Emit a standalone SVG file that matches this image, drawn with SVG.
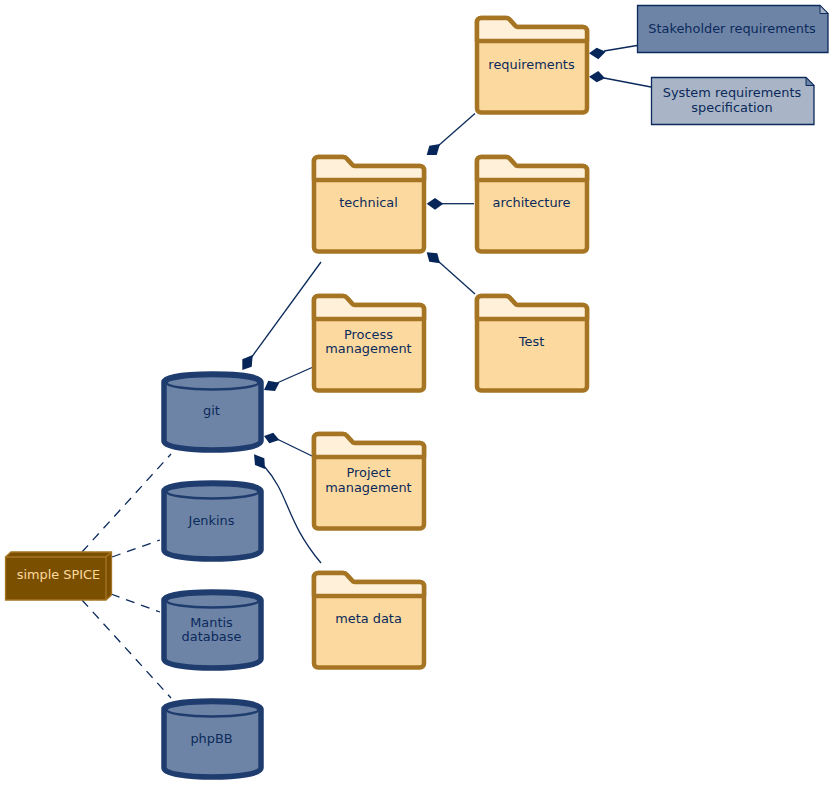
<svg xmlns="http://www.w3.org/2000/svg" width="833" height="788" viewBox="0 0 833 788">
<style>
text{font-family:"DejaVu Sans",sans-serif;font-size:12.9px;fill:#0b2a5b;text-anchor:middle}
.fb{fill:#fbd99f;stroke:#a67524;stroke-width:4.500;stroke-linejoin:round}
.ft{fill:#fff0d9;stroke:#a67524;stroke-width:4.500;stroke-linejoin:round}
.cb{fill:#6e84a6;stroke:#1f3c6e;stroke-width:5.500}
.con{fill:none;stroke:#0b2a5b;stroke-width:1.300}
.dash{stroke-dasharray:9 7}
.dia{fill:#062558;stroke:none}
</style>
<defs>
<g id="folder">
<path class="fb" d="M2 6a4 4 0 0 1 4-4H31a5 5 0 0 1 4 2L40 9.500a3 3 0 0 0 2.500 1.500H108a4 4 0 0 1 4 4V92.500a4 4 0 0 1-4 4H6a4 4 0 0 1-4-4Z"/>
<path class="ft" d="M2 25V6a4 4 0 0 1 4-4H31a5 5 0 0 1 4 2L40 9.500a3 3 0 0 0 2.500 1.500H108a4 4 0 0 1 4 4V25Z"/>
</g>
<g id="cyl">
<path class="cb" d="M3 10C3 -0.700 100 -0.700 100 10V69C100 81 3 81 3 69Z"/>
<ellipse cx="51.500" cy="10.750" rx="46" ry="6.750" fill="#6e84a6" stroke="#1f3c6e" stroke-width="2.500"/>
</g>
</defs>

<g id="connectors">
<path class="con" d="M604 51L637 45.500"/>
<path class="con" d="M604 78L651 87"/>
<path class="con" d="M438 146L475 113.500"/>
<path class="con" d="M442 203.700H474"/>
<path class="con" d="M438 261L475 294"/>
<path class="con" d="M251 358L321 262"/>
<path class="con" d="M277 383L312 367.500"/>
<path class="con" d="M277 439L312 456"/>
<path class="con" d="M264 466C290 495 285 520 321 563"/>
<path class="con dash" d="M82 552L171 454"/>
<path class="con dash" d="M112 557L160 540"/>
<path class="con dash" d="M111 594L160 612"/>
<path class="con dash" d="M82 600L171 698"/>
<path class="dia" d="M589 53.300L596.700 47.700L605.700 51.700L598.300 59.300Z"/>
<path class="dia" d="M589 76.700L598.300 71L605 78.300L596.700 82.300Z"/>
<path class="dia" d="M426.700 155L429.300 145.700L440 144L436.700 155Z"/>
<path class="dia" d="M426.700 203.700L435 198L443.300 203.700L435 209.700Z"/>
<path class="dia" d="M426.700 252.300L437.300 253.300L440 263.300L429.300 261.700Z"/>
<path class="dia" d="M242.300 359.300L252.700 355L251.700 366.700L242.300 370Z"/>
<path class="dia" d="M264 390L268.300 380.700L279.300 382.700L275 391Z"/>
<path class="dia" d="M264 436L273.300 432.700L279.300 440L269.300 443.300Z"/>
<path class="dia" d="M254 454.300L264.300 458.300L265 469L255 465Z"/>
</g>

<g id="requirements"><use href="#folder" x="475" y="16"/><text x="531.500" y="69">requirements</text></g>
<g id="technical"><use href="#folder" x="312" y="155"/><text x="368.500" y="207">technical</text></g>
<g id="architecture"><use href="#folder" x="475" y="155"/><text x="531.500" y="207">architecture</text></g>
<g id="test"><use href="#folder" x="475" y="294"/><text x="531.500" y="346">Test</text></g>
<g id="process"><use href="#folder" x="312" y="294"/><text x="368.500" y="339">Process</text><text x="368.500" y="353">management</text></g>
<g id="project"><use href="#folder" x="312" y="432"/><text x="368.500" y="477">Project</text><text x="368.500" y="492">management</text></g>
<g id="meta"><use href="#folder" x="312" y="571"/><text x="368.500" y="623">meta data</text></g>

<g id="stakeholder">
<path d="M637.500 5.500H820L828 13.500V52.500H637.500Z" fill="#6e84a6" stroke="#0b2a5b" stroke-width="1.300"/>
<path d="M820 5.500V13.500H828Z" fill="#a9b5c6" stroke="#0b2a5b" stroke-width="1"/>
<text x="732" y="33">Stakeholder requirements</text>
</g>
<g id="sysreq">
<path d="M651.500 77.500H806L814 85.500V124.500H651.500Z" fill="#a9b5c6" stroke="#0b2a5b" stroke-width="1.300"/>
<path d="M806 77.500V85.500H814Z" fill="#6e84a6" stroke="#0b2a5b" stroke-width="1"/>
<text x="732" y="97">System requirements</text><text x="732" y="112">specification</text>
</g>

<g id="git"><use href="#cyl" x="161" y="372"/><text x="211.500" y="415">git</text></g>
<g id="jenkins"><use href="#cyl" x="161" y="481"/><text x="211.500" y="525">Jenkins</text></g>
<g id="mantis"><use href="#cyl" x="161" y="590"/><text x="211.500" y="627">Mantis</text><text x="211.500" y="641">database</text></g>
<g id="phpbb"><use href="#cyl" x="161" y="699"/><text x="211.500" y="743">phpBB</text></g>

<g id="spice">
<path d="M5.500 557L11 552H111.500V595L106 600H5.500Z" fill="#7b4f00" stroke="#a67524" stroke-width="1.300"/>
<path d="M5.500 557H106V600M106 557L111.500 552" fill="none" stroke="#a67524" stroke-width="1.300"/>
<text x="58.500" y="579" style="fill:#fbd99f">simple SPICE</text>
</g>
</svg>
